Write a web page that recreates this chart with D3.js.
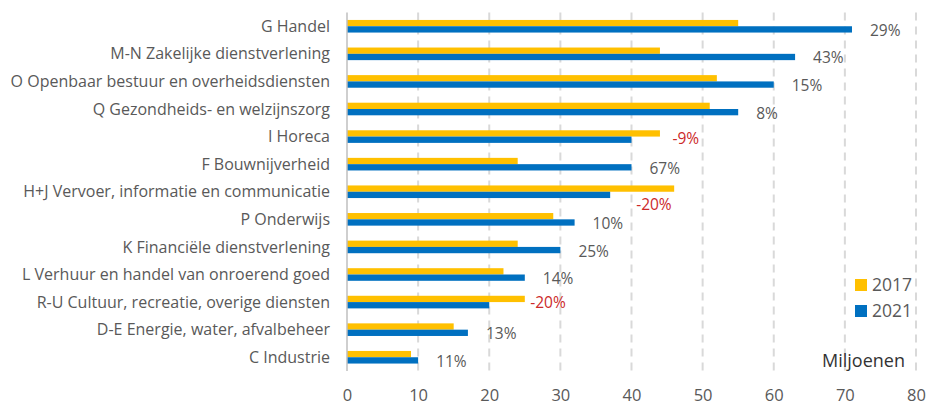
<!DOCTYPE html>
<html>
<head>
<meta charset="utf-8">
<script src="https://cdn.jsdelivr.net/npm/d3@7"></script>
<style>
  body { margin: 0; background: #fff; }
  svg { display: block; font-family: "Open Sans", "Liberation Sans", sans-serif; }
</style>
</head>
<body>
<div class="chart"></div>
<script>
// sectors, top to bottom
var categories = [
  "G Handel",
  "M-N Zakelijke dienstverlening",
  "O Openbaar bestuur en overheidsdiensten",
  "Q Gezondheids- en welzijnszorg",
  "I Horeca",
  "F Bouwnijverheid",
  "H+J Vervoer, informatie en communicatie",
  "P Onderwijs",
  "K Financiële dienstverlening",
  "L Verhuur en handel van onroerend goed",
  "R-U Cultuur, recreatie, overige diensten",
  "D-E Energie, water, afvalbeheer",
  "C Industrie"
];
var years = ["2017", "2021"];
// millions
var values2017 = [55, 44, 52, 51, 44, 24, 46, 29, 24, 22, 25, 15, 9];
var values2021 = [71, 63, 60, 55, 40, 40, 37, 32, 30, 25, 20, 17, 10];
// change 2017 -> 2021 in %
var changes = [29, 43, 15, 8, -9, 67, -20, 10, 25, 14, -20, 13, 11];
var xTicks = [0, 10, 20, 30, 40, 50, 60, 70, 80];

var svgWidth = 931;
var svgHeight = 406;

var colors = { "2017": "#FFC000", "2021": "#0070C0" };

var svg = d3.select(".chart")
  .append("svg")
  .attr("width", svgWidth)
  .attr("height", svgHeight);

var xScale = d3.scaleLinear()
  .domain([0, 80])
  .range([347, 916]);

var yScale = d3.scaleBand()
  .domain(categories)
  .range([12.5, 371])
  .paddingInner(0.543)
  .paddingOuter(0.27);

var ySub = d3.scaleBand()
  .domain(years)
  .range([0, yScale.bandwidth()]);

// dashed gridlines
svg.append("g")
  .selectAll("line")
  .data(xTicks.slice(1))
  .enter().append("line")
    .attr("x1", function(d) { return xScale(d); })
    .attr("x2", function(d) { return xScale(d); })
    .attr("y1", 12.5)
    .attr("y2", 371)
    .attr("stroke", "#d9d9d9")
    .attr("stroke-width", 2)
    .attr("stroke-dasharray", "8,6");

// bars
var rows = categories.map(function(c, i) {
  return { cat: c, v2017: values2017[i], v2021: values2021[i], change: changes[i] };
});

var groups = svg.append("g")
  .selectAll("g")
  .data(rows)
  .enter().append("g")
    .attr("transform", function(d) { return "translate(0," + yScale(d.cat) + ")"; });

years.forEach(function(yr) {
  groups.append("rect")
    .attr("x", xScale(0))
    .attr("y", ySub(yr))
    .attr("height", ySub.bandwidth())
    .attr("width", function(d) { return xScale(d["v" + yr]) - xScale(0); })
    .attr("fill", colors[yr]);
});

// axis line at zero
svg.append("line")
  .attr("x1", xScale(0)).attr("x2", xScale(0))
  .attr("y1", 12.5).attr("y2", 371)
  .attr("stroke", "#bfbfbf")
  .attr("stroke-width", 1.5);

// change labels, a few were moved by hand in the original
var nudge = {
  "I Horeca": [23, -2],
  "H+J Vervoer, informatie en communicatie": [8, 9],
  "R-U Cultuur, recreatie, overige diensten": [23, -4]
};

groups.append("text")
  .attr("x", function(d) {
    var n = nudge[d.cat] || [0, 0];
    return xScale(d.v2021) + 18 + n[0];
  })
  .attr("y", function(d) {
    var n = nudge[d.cat] || [0, 0];
    return ySub("2021") + ySub.bandwidth() / 2 + 1 + n[1];
  })
  .attr("dy", "0.35em")
  .attr("font-size", 15.5)
  .attr("fill", function(d) { return d.change < 0 ? "#cc2929" : "#595959"; })
  .text(function(d) { return d.change + "%"; });

// category labels
svg.append("g")
  .selectAll("text")
  .data(categories)
  .enter().append("text")
    .attr("x", 330)
    .attr("y", function(d) { return yScale(d) + yScale.bandwidth() / 2; })
    .attr("dy", "0.35em")
    .attr("text-anchor", "end")
    .attr("font-size", 16)
    .attr("fill", "#595959")
    .text(function(d) { return d; });

// x axis tick labels
var bottomAxis = d3.axisBottom(xScale)
  .tickValues(xTicks)
  .tickSize(0)
  .tickPadding(0);

var axisG = svg.append("g")
  .attr("transform", "translate(0,389)")
  .call(bottomAxis);
axisG.select(".domain").remove();
axisG.selectAll("text")
  .attr("font-family", "Open Sans, sans-serif")
  .attr("font-size", 16.5)
  .attr("fill", "#595959");

// legend
var legend = svg.append("g")
  .selectAll("g")
  .data(years)
  .enter().append("g")
    .attr("transform", function(d, i) { return "translate(855," + (279 + i * 26) + ")"; });

legend.append("rect")
  .attr("width", 12)
  .attr("height", 12)
  .attr("fill", function(d) { return colors[d]; });

legend.append("text")
  .attr("x", 17)
  .attr("y", 6)
  .attr("dy", "0.35em")
  .attr("font-size", 17.5)
  .attr("fill", "#595959")
  .text(function(d) { return d; });

// unit
svg.append("text")
  .attr("x", 905)
  .attr("y", 366.5)
  .attr("text-anchor", "end")
  .attr("font-size", 18)
  .attr("fill", "#333")
  .text("Miljoenen");
</script>
</body>
</html>
